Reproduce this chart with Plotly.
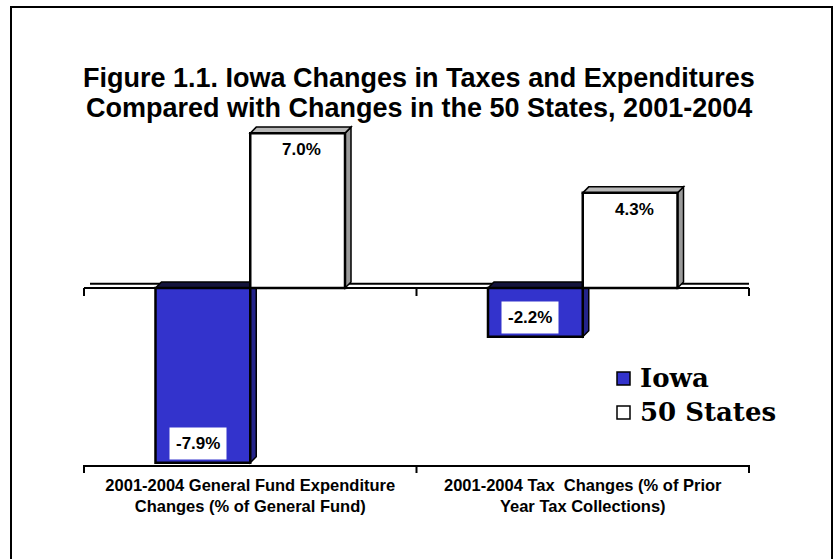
import plotly.graph_objects as go

# ---- data -------------------------------------------------------------
categories = [
    "2001-2004 General Fund Expenditure<br>Changes (% of General Fund)",
    "2001-2004 Tax\u00a0 Changes (% of Prior<br>Year Tax Collections)",
]
iowa = [-7.9, -2.2]
states = [7.0, 4.3]
series_names = ["Iowa", "50 States"]
title_lines = [
    "Figure 1.1. Iowa Changes in Taxes and Expenditures",
    "Compared with Changes in the 50 States, 2001-2004",
]

# ---- layout constants -------------------------------------------------
W, H = 835, 559
M_L, M_R, M_T, M_B = 84, 86, 111, 94
Y_MIN, Y_MAX = -8, 8
X_MIN, X_MAX = -0.5, 1.5
BARGAP = 0.43
BAR_W = (1 - BARGAP) / 2

PLOT_W = W - M_L - M_R
PLOT_H = H - M_T - M_B
PX_X = PLOT_W / (X_MAX - X_MIN)      # pixels per x unit
PX_Y = PLOT_H / (Y_MAX - Y_MIN)      # pixels per y unit

DEPTH_DX = 6 / PX_X                  # 3-D depth offset, in data units
DEPTH_DY = 6 / PX_Y

BLUE = "#3333CC"
BLUE_SIDE = "#24248A"
BLUE_TOP = "#14143C"
GRAY_TOP = "#B8B8B8"
GRAY_SIDE = "#9A9A9A"

SANS = "Liberation Sans, Arial, sans-serif"
SERIF = "DejaVu Serif, Liberation Serif, serif"

xpos = list(range(len(categories)))


def px_to_paper_x(px):
    return (px - M_L) / PLOT_W


def px_to_paper_y(py):
    return (H - M_B - py) / PLOT_H


def poly(pts):
    return "M " + " L ".join(f"{x:.5f},{y:.5f}" for x, y in pts) + " Z"


fig = go.Figure()

fig.add_trace(go.Bar(
    x=xpos, y=iowa, name=series_names[0], offsetgroup="a",
    marker=dict(color=BLUE, line=dict(color="black", width=2.5)),
    hoverinfo="skip", showlegend=False,
))
fig.add_trace(go.Bar(
    x=xpos, y=states, name=series_names[1], offsetgroup="b",
    marker=dict(color="white", line=dict(color="black", width=2.5)),
    hoverinfo="skip", showlegend=False,
))

shapes = []

# zero plane: back edge, front edge and its boundary ticks
shapes.append(dict(type="line", xref="x", yref="y", layer="below",
                   x0=X_MIN + DEPTH_DX, x1=X_MAX + DEPTH_DX * 1.3,
                   y0=DEPTH_DY * 0.7, y1=DEPTH_DY * 0.7,
                   line=dict(color="black", width=2)))
shapes.append(dict(type="line", xref="x", yref="y", layer="below",
                   x0=X_MIN, x1=X_MAX, y0=0, y1=0,
                   line=dict(color="black", width=2)))
zero_px = H - M_B - (0 - Y_MIN) * PX_Y
bottom_px = H - M_B
for b in [X_MIN + k for k in range(len(categories) + 1)]:
    bx = px_to_paper_x(M_L + (b - X_MIN) * PX_X)
    shapes.append(dict(type="line", xref="paper", yref="paper",
                       x0=bx, x1=bx,
                       y0=px_to_paper_y(zero_px), y1=px_to_paper_y(zero_px + 8),
                       line=dict(color="black", width=2)))
    shapes.append(dict(type="line", xref="paper", yref="paper",
                       x0=bx, x1=bx,
                       y0=px_to_paper_y(bottom_px), y1=px_to_paper_y(bottom_px + 8),
                       line=dict(color="black", width=2)))


def depth_faces(values, offset, top_color, side_color):
    for i, v in zip(xpos, values):
        xl = i + offset - BAR_W / 2
        xr = i + offset + BAR_W / 2
        side = [(xr, 0), (xr, v), (xr + DEPTH_DX, v + DEPTH_DY), (xr + DEPTH_DX, DEPTH_DY)]
        top_y = max(v, 0)
        top = [(xl, top_y), (xr, top_y), (xr + DEPTH_DX, top_y + DEPTH_DY),
               (xl + DEPTH_DX, top_y + DEPTH_DY)]
        for pts, col in ((side, side_color), (top, top_color)):
            shapes.append(dict(type="path", xref="x", yref="y", layer="below",
                               path=poly(pts), fillcolor=col,
                               line=dict(color="black", width=1.5)))


depth_faces(iowa, -BAR_W / 2, BLUE_TOP, BLUE_SIDE)
depth_faces(states, BAR_W / 2, GRAY_TOP, GRAY_SIDE)

# outer frame
shapes.append(dict(type="rect", xref="paper", yref="paper",
                   x0=px_to_paper_x(11), x1=px_to_paper_x(832),
                   y0=px_to_paper_y(H + 20), y1=px_to_paper_y(7),
                   line=dict(color="black", width=2), fillcolor="rgba(0,0,0,0)"))

annotations = []

# legend: swatches and series names
legend_rows = [(series_names[0], BLUE, 378), (series_names[1], "white", 412)]
for name, col, cy in legend_rows:
    shapes.append(dict(type="rect", xref="paper", yref="paper",
                       x0=px_to_paper_x(617), x1=px_to_paper_x(630),
                       y0=px_to_paper_y(cy + 7), y1=px_to_paper_y(cy - 6),
                       line=dict(color="black", width=1.5), fillcolor=col))
    annotations.append(dict(x=px_to_paper_x(638), y=px_to_paper_y(cy), xref="paper",
                            yref="paper", xanchor="left", yanchor="middle",
                            text=f"<b>{name}</b>", showarrow=False,
                            font=dict(family=SERIF, size=26, color="black")))

# value labels
label_font = dict(family=SANS, size=17, color="black")
for i, v in zip(xpos, states):
    annotations.append(dict(x=i + BAR_W / 2, y=v, xref="x", yref="y",
                            text=f"<b>{v:.1f}%</b>", showarrow=False,
                            yanchor="top", yshift=-5, xshift=4, font=label_font))
for i, v in zip(xpos, iowa):
    annotations.append(dict(x=i - BAR_W / 2, y=v, xref="x", yref="y",
                            text=f"<b>{v:.1f}%</b>", showarrow=False,
                            yanchor="bottom", yshift=3, xshift=-5, font=label_font,
                            bgcolor="white", borderpad=6))

# title, one annotation per line
for line, cy in zip(title_lines, (78, 108)):
    annotations.append(dict(
        x=px_to_paper_x(419), xref="paper", y=px_to_paper_y(cy), yref="paper",
        xanchor="center", yanchor="middle", text=f"<b>{line}</b>", showarrow=False,
        font=dict(family=SANS, size=27, color="black"),
    ))

fig.update_layout(
    width=W, height=H,
    margin=dict(l=M_L, r=M_R, t=M_T, b=M_B),
    paper_bgcolor="white",
    plot_bgcolor="rgba(0,0,0,0)",
    barmode="group", bargap=BARGAP, bargroupgap=0,
    showlegend=False,
    shapes=shapes,
    annotations=annotations,
    xaxis=dict(
        range=[X_MIN, X_MAX], tickvals=xpos,
        ticktext=[f"<b>{c}</b>" for c in categories],
        ticks="outside", ticklen=4, tickcolor="rgba(0,0,0,0)",
        showline=True, linecolor="black", linewidth=2, mirror=False,
        showgrid=False, zeroline=False, fixedrange=True,
        tickfont=dict(family=SANS, size=16.5, color="black"),
    ),
    yaxis=dict(
        range=[Y_MIN, Y_MAX], visible=False, showgrid=False, zeroline=False,
        fixedrange=True,
    ),
)

fig.write_html("out.html")
